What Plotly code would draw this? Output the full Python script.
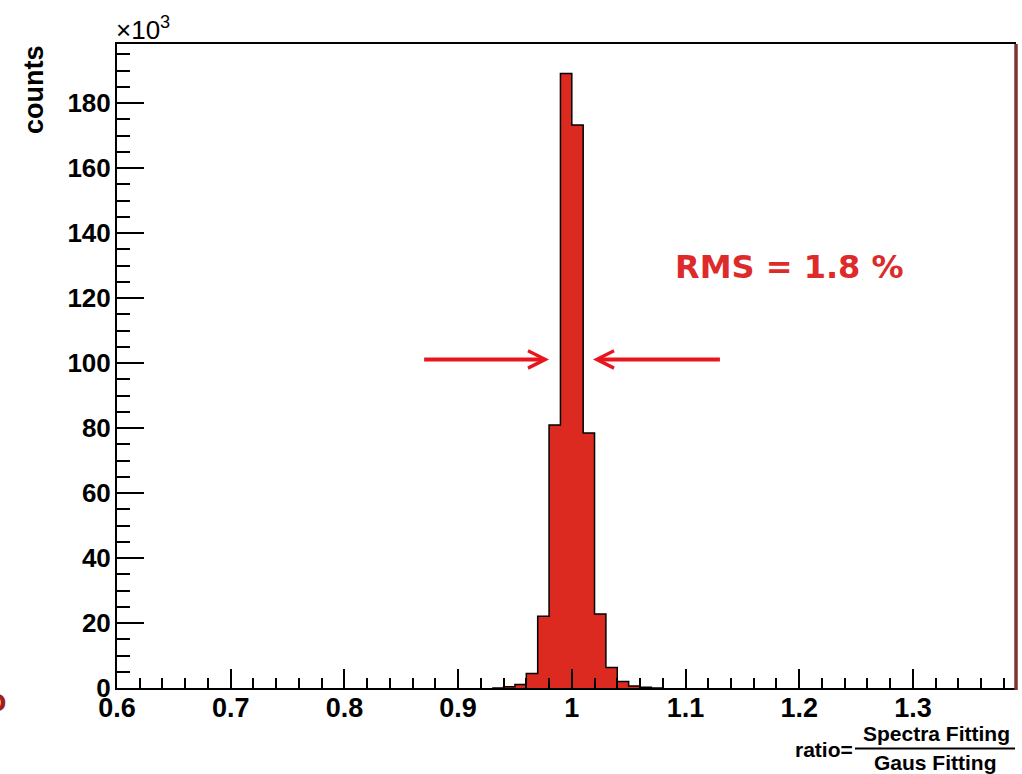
import plotly.graph_objects as go

# ---------------- data ----------------
bin_edges = [0.93, 0.94, 0.95, 0.96, 0.97, 0.98, 0.99, 1.00, 1.01, 1.02,
             1.03, 1.04, 1.05, 1.06, 1.07, 1.08]
counts_k = [0.0, 0.4, 1.1, 4.5, 22.1, 80.9, 189.1, 173.2, 78.5, 22.8,
            6.3, 2.0, 0.6, 0.25, 0.0]          # counts in units of 10^3
x_ticks = [0.6, 0.7, 0.8, 0.9, 1.0, 1.1, 1.2, 1.3]
y_ticks = [0, 20, 40, 60, 80, 100, 120, 140, 160, 180]
rms_text = "RMS = 1.8 %"
arrow_y = 101.1
left_arrow = (0.8688, 0.980)     # tail, tip
right_arrow = (1.1316, 1.0186)   # tail, tip

# ---------------- layout geometry ----------------
W, H = 1022, 774
L, R, T, B = 117, 6, 44, 86
PW, PH = W - L - R, H - T - B


def px(xp):
    return (xp - L) / PW


def py(yp):
    return (H - B - yp) / PH


RED_FILL = "#dc2a20"
ARROW_RED = "#e8161c"
TEXT_RED = "#dd2b2b"
FONT = "Liberation Sans"

fig = go.Figure()

# histogram as filled step outline
fig.add_trace(go.Scatter(
    x=bin_edges,
    y=counts_k + [counts_k[-1]],
    mode="lines",
    line=dict(shape="hv", color="black", width=1.5),
    fill="tozeroy",
    fillcolor=RED_FILL,
    hoverinfo="skip",
    showlegend=False,
))

axis_common = dict(
    showgrid=False, zeroline=False, showline=True, linecolor="black",
    linewidth=2, ticks="inside", tickcolor="black", tickwidth=1.5,
)

fig.update_xaxes(
    range=[0.6, 0.6 + PW / 1137.0],
    tickvals=x_ticks, ticktext=[("%g" % v) for v in x_ticks],
    ticklen=19, mirror=True,
    tickfont=dict(family=FONT, size=27, color="black", weight="bold"),
    minor=dict(dtick=0.02, tick0=0.6, ticks="inside", ticklen=10,
               tickcolor="black", tickwidth=1.5),
    ticklabelstandoff=-5,
    **axis_common,
)
fig.update_yaxes(
    range=[0, PH / 3.25],
    tickvals=y_ticks, ticklen=27,
    tickfont=dict(family=FONT, size=26, color="black", weight="bold"),
    minor=dict(dtick=5, tick0=0, ticks="inside", ticklen=13,
               tickcolor="black", tickwidth=1.5),
    ticklabelstandoff=-1,
    **axis_common,
)

annotations = [
    # y-axis title
    dict(text="<b>counts</b>", x=px(34), y=py(90), xref="paper", yref="paper",
         textangle=-90, showarrow=False, xanchor="center", yanchor="middle",
         font=dict(family=FONT, size=27, color="black")),
    # exponent
    dict(text="×10<sup>3</sup>", x=px(114), y=py(29), xref="paper", yref="paper",
         showarrow=False, xanchor="left", yanchor="middle",
         font=dict(family=FONT, size=26, color="black")),
    # RMS label
    dict(text="<b>" + rms_text + "</b>", x=px(789), y=py(267), xref="paper",
         yref="paper", showarrow=False, xanchor="center", yanchor="middle",
         font=dict(family="DejaVu Sans", size=32, color=TEXT_RED)),
    # x title: ratio = Spectra Fitting / Gaus Fitting
    dict(text="<b>ratio=</b>", x=px(855), y=py(749), xref="paper", yref="paper",
         showarrow=False, xanchor="right", yanchor="middle",
         font=dict(family=FONT, size=21, color="black")),
    dict(text="<b>Spectra Fitting</b>", x=px(936), y=py(733), xref="paper",
         yref="paper", showarrow=False, xanchor="center", yanchor="middle",
         font=dict(family=FONT, size=21, color="black")),
    dict(text="<b>Gaus Fitting</b>", x=px(935), y=py(762), xref="paper",
         yref="paper", showarrow=False, xanchor="center", yanchor="middle",
         font=dict(family=FONT, size=21, color="black")),
    # cropped slide letter at the left edge
    dict(text="<b>o</b>", x=px(9), y=py(699), xref="paper", yref="paper",
         showarrow=False, xanchor="right", yanchor="middle",
         font=dict(family="Open Sans", size=30, color="#a3201a")),
]

for tail, tip in (left_arrow, right_arrow):
    annotations.append(dict(
        x=tip, y=arrow_y, ax=tail, ay=arrow_y,
        xref="x", yref="y", axref="x", ayref="y",
        showarrow=True, arrowhead=5, arrowsize=0.85, arrowwidth=4,
        arrowcolor=ARROW_RED, text="", standoff=0,
    ))

shapes = [
    # fraction bar
    dict(type="line", xref="paper", yref="paper", x0=px(855), x1=px(1015),
         y0=py(748.5), y1=py(748.5), line=dict(color="black", width=2)),
    # right frame edge (dark red)
    dict(type="line", xref="paper", yref="paper", x0=1, x1=1, y0=py(690), y1=1,
         line=dict(color="#7a3434", width=3.5)),
]

fig.update_layout(
    width=W, height=H,
    margin=dict(l=L, r=R, t=T, b=B),
    paper_bgcolor="white", plot_bgcolor="white",
    annotations=annotations, shapes=shapes,
    showlegend=False,
)

fig.write_html("out.html")
